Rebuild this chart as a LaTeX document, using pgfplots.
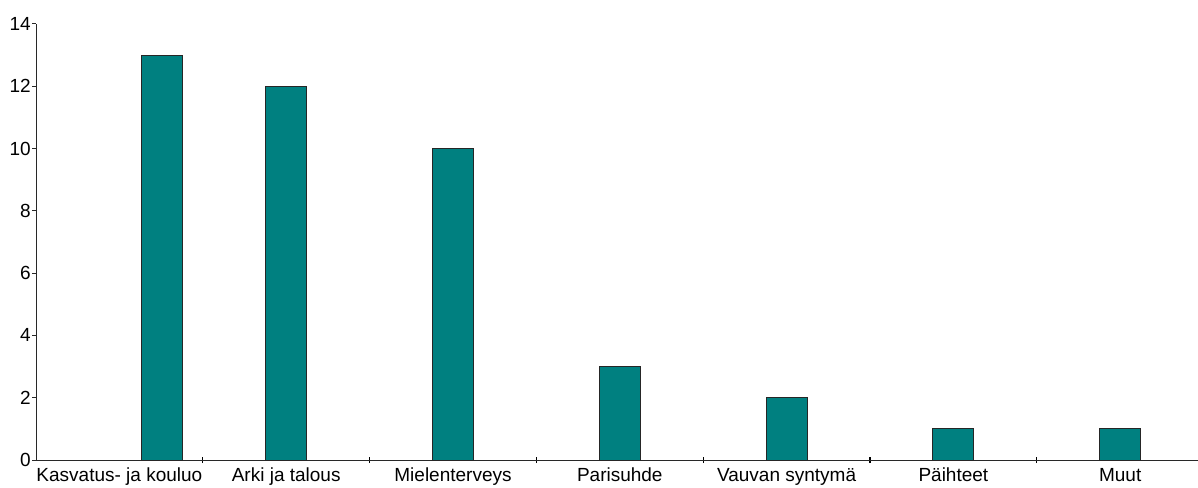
\documentclass[border=0pt]{standalone}
\usepackage{fontspec}
\setmainfont{Liberation Sans}
\usepackage{pgfplots}
\pgfplotsset{compat=1.18}
\definecolor{barteal}{RGB}{0,128,128}
\definecolor{axisgray}{RGB}{40,40,40}
\begin{document}
\begin{tikzpicture}
\begin{axis}[
  scale only axis, width=1162pt, height=436pt,
  xmin=0, xmax=6.9665, ymin=0, ymax=14,
  axis lines*=left,
  axis line style={draw=axisgray, line width=1pt},
  ytick={0,2,...,14},
  xtick={0.5,1.5,...,6.5},
  xticklabels={Kasvatus- ja kouluo, Arki ja talous, Mielenterveys, Parisuhde, Vauvan syntymä, Päihteet, Muut},
  major x tick style={draw=none},
  minor xtick={1,2,...,6},
  tick align=outside,
  major tick length=4pt,
  minor tick length=6pt,
  every minor tick/.append style={draw=black, line width=1.2pt, yshift=3pt},
  major y tick style={draw=axisgray, line width=1pt},
  ticklabel style={font=\fontsize{19}{22}\selectfont, text=black},
  /pgf/number format/assume math mode=true,
  yticklabel style={inner sep=1pt},
  xticklabel style={inner sep=0pt, yshift=-4pt},
  ybar, bar width=41pt, bar shift=0pt,
  clip=false,
]
\addplot[fill=barteal, draw=black!85, line width=1pt] coordinates {
  (0.755,13) (1.5,12) (2.5,10) (3.5,3) (4.5,2) (5.5,1) (6.5,1)
};
\coordinate (bl) at (rel axis cs:0,0);
\coordinate (tr) at (rel axis cs:1,1);
\end{axis}
\pgfresetboundingbox
\useasboundingbox ([shift={(-36pt,-27pt)}]bl) rectangle ([shift={(0pt,24pt)}]tr);
\end{tikzpicture}
\end{document}
